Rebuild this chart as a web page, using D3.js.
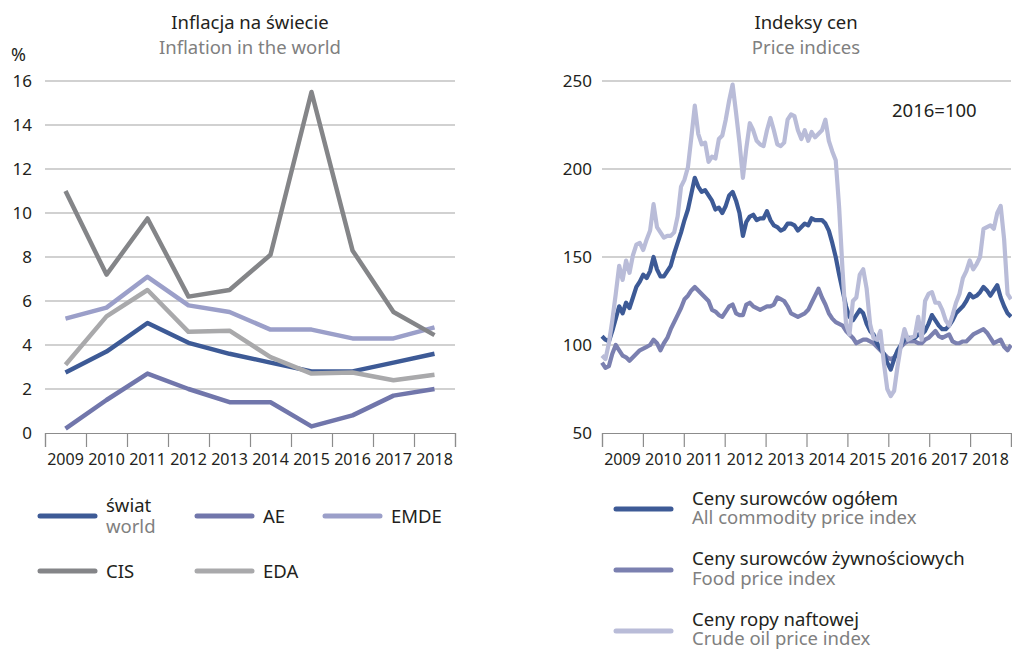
<!DOCTYPE html>
<html>
<head>
<meta charset="utf-8">
<script src="https://d3js.org/d3.v7.min.js"></script>
<style>
    body { margin: 0; background: #fff; }
    svg { font-family: "Noto Sans", "Open Sans", sans-serif; }
</style>
</head>
<body>
<svg id="chart" width="1012" height="650"></svg>
<script>
// lewy wykres - inflacja (%)
const years = ["2009", "2010", "2011", "2012", "2013", "2014", "2015", "2016", "2017", "2018"];
const world = [2.75, 3.7, 5.0, 4.1, 3.6, 3.2, 2.8, 2.8, 3.2, 3.6];
const ae = [0.2, 1.5, 2.7, 2.0, 1.4, 1.4, 0.3, 0.8, 1.7, 2.0];
const emde = [5.2, 5.7, 7.1, 5.8, 5.5, 4.7, 4.7, 4.3, 4.3, 4.8];
const cis = [11.0, 7.2, 9.75, 6.2, 6.5, 8.1, 15.5, 8.3, 5.5, 4.45];
const eda = [3.1, 5.3, 6.5, 4.6, 4.65, 3.45, 2.7, 2.75, 2.4, 2.65];
const inflTicks = [0, 2, 4, 6, 8, 10, 12, 14, 16];

// prawy wykres - indeksy cen, miesięcznie 01.2009-12.2018, 2016=100
const allCommodity = [
    105, 103, 102, 108, 115, 122, 118, 124, 121, 127, 133, 136,
    140, 138, 142, 150, 143, 139, 139, 142, 145, 152, 158, 164,
    171, 177, 186, 195, 190, 187, 188, 185, 182, 177, 178, 175,
    179, 185, 187, 182, 175, 162, 170, 173, 174, 171, 172, 172,
    176, 171, 168, 167, 165, 166, 169, 169, 168, 165, 167, 169,
    168, 172, 171, 171, 171, 169, 165, 158, 150, 140, 131, 122,
    116, 114, 117, 120, 118, 112, 108, 106, 101, 98, 95, 90,
    86, 92, 97, 100, 103, 104, 104, 104, 106, 106, 108, 112,
    117, 114, 111, 109, 109, 111, 114, 118, 120, 122, 125, 129,
    127, 128, 130, 133, 131, 128, 131, 134, 127, 122, 118, 116
];
const food = [
    90, 87, 88, 95, 100, 97, 94, 93, 91, 93, 95, 97,
    98, 99, 100, 103, 101, 97, 101, 104, 109, 113, 117, 121,
    126, 128, 131, 133, 131, 129, 127, 125, 120, 119, 117, 116,
    119, 122, 123, 118, 117, 117, 123, 124, 122, 121, 120, 121,
    122, 122, 123, 127, 126, 125, 122, 118, 117, 116, 117, 118,
    120, 124, 128, 132, 127, 123, 118, 115, 113, 112, 111, 108,
    106, 104, 101, 102, 103, 103, 102, 101, 99, 97, 95, 93,
    92, 93, 96, 99, 101, 102, 102, 102, 101, 101, 103, 104,
    106, 108, 105, 104, 105, 106, 102, 101, 101, 102, 102, 104,
    106, 107, 108, 109, 107, 104, 101, 102, 103, 99, 97, 100
];
const oil = [
    94, 92, 101, 114, 129, 145, 137, 148, 141, 151, 157, 158,
    154, 160, 165, 180, 167, 164, 161, 162, 162, 164, 173, 190,
    194, 201, 218, 236, 220, 214, 215, 204, 207, 206, 217, 219,
    228, 239, 248, 232, 215, 195, 212, 226, 222, 216, 214, 213,
    222, 229, 222, 214, 213, 215, 228, 231, 230, 222, 217, 222,
    216, 221, 218, 220, 222, 228, 216, 210, 205, 178, 142, 112,
    106, 125, 127, 140, 143, 132, 112, 104, 103, 108, 90, 75,
    71, 74, 88, 100, 109, 103, 104, 105, 116, 103, 125, 129,
    130, 124, 124, 120, 114, 111, 117, 124, 129, 138, 142, 148,
    143, 146, 150, 166, 167, 168, 166, 175, 179, 160, 129, 126
];
const priceTicks = [50, 100, 150, 200, 250];

const inflSeries = [
    {name: "świat", sub: "world", values: world, color: "#3d5a96"},
    {name: "AE", values: ae, color: "#7176ab"},
    {name: "EMDE", values: emde, color: "#9b9fc9"},
    {name: "EDA", values: eda, color: "#a9a9ab"},
    {name: "CIS", values: cis, color: "#848588"}
];
const priceSeries = [
    {name: "Ceny surowców żywnościowych", sub: "Food price index", values: food, color: "#7b80b0"},
    {name: "Ceny surowców ogółem", sub: "All commodity price index", values: allCommodity, color: "#3d5a96"},
    {name: "Ceny ropy naftowej", sub: "Crude oil price index", values: oil, color: "#b9bcd8"}
];

const svg = d3.select("#chart");
const gridColor = "#a3a3a3";
const textColor = "#231f20";
const subColor = "#808080";
const plotTop = 81, plotBottom = 433;

function titles(cx, pl, en) {
    svg.append("text").attr("x", cx).attr("y", 29).attr("text-anchor", "middle")
        .style("font-size", "18.5px").attr("fill", textColor).text(pl);
    svg.append("text").attr("x", cx).attr("y", 54).attr("text-anchor", "middle")
        .style("font-size", "18.5px").attr("fill", subColor).text(en);
}

function frame(x0, x1, y, ticks, pad) {
    // linie siatki (bez dolnej - tam jest oś)
    svg.append("g").selectAll("line")
        .data(ticks.slice(1))
        .enter()
        .append("line")
        .attr("x1", x0).attr("x2", x1)
        .attr("y1", d => y(d)).attr("y2", d => y(d))
        .attr("stroke", gridColor)
        .attr("stroke-width", 1.2);

    const ya = svg.append("g")
        .attr("transform", `translate(${x0},0)`)
        .call(d3.axisLeft(y).tickValues(ticks).tickSize(0).tickPadding(pad));
    ya.select(".domain").remove();
    ya.selectAll("text").style("font-size", "17px").attr("fill", textColor)
        .style("font-family", "'Noto Sans', sans-serif");

    // lata pod osią
    const xb = d3.scaleBand().domain(years).range([x0, x1]);
    const xa = svg.append("g")
        .attr("transform", `translate(0,${plotBottom})`)
        .call(d3.axisBottom(xb).tickSize(0).tickPadding(21));
    xa.select(".domain").remove();
    xa.selectAll("text").style("font-size", "16px").attr("fill", textColor)
        .style("font-family", "'Noto Sans', sans-serif");

    const xt = d3.scaleLinear().domain([0, years.length]).range([x0, x1]);
    const tk = svg.append("g")
        .attr("transform", `translate(0,${plotBottom})`)
        .call(d3.axisBottom(xt).ticks(years.length).tickSize(14).tickFormat(""));
    tk.select(".domain").attr("stroke", "#8c8c8c").attr("stroke-width", 1.2);
    tk.selectAll("line").attr("stroke", "#8c8c8c").attr("stroke-width", 1.2);
}

function legendItem(x, y, s, textX, dyMain, dySub) {
    svg.append("line")
        .attr("x1", x).attr("x2", x + 55)
        .attr("y1", y).attr("y2", y)
        .attr("stroke", s.color)
        .attr("stroke-width", 5)
        .attr("stroke-linecap", "round");
    svg.append("text").attr("x", textX).attr("y", y + dyMain)
        .style("font-size", "18.5px").attr("fill", textColor).text(s.name);
    if (s.sub) {
        svg.append("text").attr("x", textX).attr("y", y + dyMain + dySub)
            .style("font-size", "18.5px").attr("fill", subColor).text(s.sub);
    }
}

// ---- lewy wykres ----
titles(250, "Inflacja na świecie", "Inflation in the world");
svg.append("text").attr("x", 11).attr("y", 61)
    .style("font-size", "18px").attr("fill", textColor).text("%");

const yL = d3.scaleLinear().domain([0, 16]).range([plotBottom, plotTop]);
const xL = d3.scaleBand().domain(years).range([45, 455]);
frame(45, 455, yL, inflTicks, 13);

const lineL = d3.line()
    .x((d, i) => xL(years[i]) + xL.bandwidth() / 2)
    .y(d => yL(d));

svg.append("g").selectAll("path")
    .data(inflSeries)
    .enter()
    .append("path")
    .attr("d", d => lineL(d.values))
    .attr("fill", "none")
    .attr("stroke", d => d.color)
    .attr("stroke-width", 4.5)
    .attr("stroke-linejoin", "round");

const legL = [
    {s: inflSeries[0], x: 40, y: 516, dy: -4},
    {s: inflSeries[1], x: 197, y: 516, dy: 7},
    {s: inflSeries[2], x: 325, y: 516, dy: 7},
    {s: inflSeries[4], x: 40, y: 571, dy: 7},
    {s: inflSeries[3], x: 197, y: 571, dy: 7}
];
legL.forEach(l => legendItem(l.x, l.y, l.s, l.x + 66, l.dy, 21));

// ---- prawy wykres ----
titles(806, "Indeksy cen", "Price indices");
svg.append("text").attr("x", 892).attr("y", 117)
    .style("font-size", "18.5px").attr("fill", textColor).text("2016=100");

const yR = d3.scaleLinear().domain([50, 250]).range([plotBottom, plotTop]);
const xR = d3.scaleLinear().domain([0, 119]).range([602, 1011]);
frame(602, 1011, yR, priceTicks, 10);

const lineR = d3.line()
    .x((d, i) => xR(i))
    .y(d => yR(d));

svg.append("g").selectAll("path")
    .data(priceSeries)
    .enter()
    .append("path")
    .attr("d", d => lineR(d.values))
    .attr("fill", "none")
    .attr("stroke", d => d.color)
    .attr("stroke-width", 4.2)
    .attr("stroke-linejoin", "round");

legendItem(616, 509, priceSeries[1], 692, -4, 19);
legendItem(616, 570, priceSeries[0], 692, -5, 19.5);
legendItem(616, 631, priceSeries[2], 692, -5, 18.5);
</script>
</body>
</html>
